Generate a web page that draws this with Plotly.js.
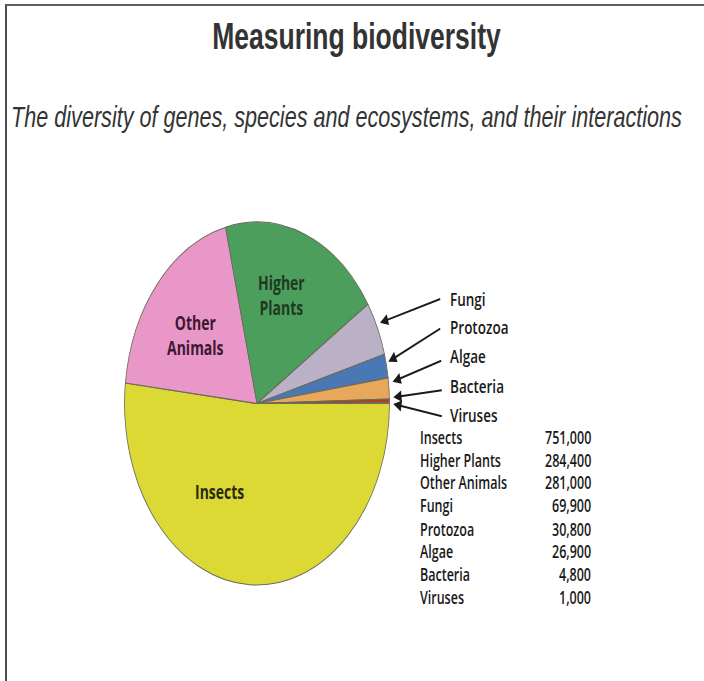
<!DOCTYPE html>
<html>
<head>
<meta charset="utf-8">
<script src="https://cdn.plot.ly/plotly-3.0.1.min.js"></script>
<style>
  html, body { margin: 0; padding: 0; background: #fff; overflow: hidden; }
  #stage { position: relative; width: 704px; height: 681px; overflow: hidden; }
  #chart { position: absolute; left: 0; top: 0; width: 704px; height: 497px;
           transform: scaleY(1.3702); transform-origin: 0 0; }
  #frame { position: absolute; left: 5px; top: 4px; right: 0; bottom: 0;
           border-top: 2px solid #5e5e5e; border-left: 2px solid #4e4e4e; pointer-events: none; }
</style>
</head>
<body>
<div id="stage">
  <div id="chart"></div>
  <div id="frame"></div>
</div>
<script>
// ---- data ----
const categories = ['Insects', 'Higher Plants', 'Other Animals', 'Fungi', 'Protozoa', 'Algae', 'Bacteria', 'Viruses'];
const speciesCounts = [751000, 284400, 281000, 69900, 30800, 26900, 4800, 1000];
// order of the slices going clockwise from 3 o'clock
const pieOrder = ['Insects', 'Other Animals', 'Higher Plants', 'Fungi', 'Protozoa', 'Algae', 'Bacteria', 'Viruses'];
const insideLabels = ['Higher Plants', 'Other Animals', 'Insects'];
const calloutLabels = ['Fungi', 'Protozoa', 'Algae', 'Bacteria', 'Viruses'];
const chartTitle = 'Measuring biodiversity';
const chartSubtitle = 'The diversity of genes, species and ecosystems, and their interactions';

// ---- styles ----
const S = 681 / 497;             // vertical stretch of the reference
const W = 704, H = 681;
const px = x => x / W;
const py = y => 1 - y / H;       // y given in final (stretched) pixels
const sliceColors = {
  'Insects': '#dcd934', 'Other Animals': '#e996c8', 'Higher Plants': '#4c9e5c',
  'Fungi': '#bab1c6', 'Protozoa': '#4a78b5', 'Algae': '#e9a75b',
  'Bacteria': '#a9421e', 'Viruses': '#d6cf92'
};
const insidePos = {
  'Higher Plants': { x: 281, y: 295, color: '#1f3a22' },
  'Other Animals': { x: 195, y: 335, color: '#3d1830' },
  'Insects':       { x: 219, y: 491, color: '#2a2a10' }
};
const calloutText = { x: 448, y0: 298.5, dy: 29.1 };
const calloutArrows = {
  'Fungi':    { tip: [380, 322.7], tail: [441.7, 298.3] },
  'Protozoa': { tip: [388.3, 361.7], tail: [441.7, 327.7] },
  'Algae':    { tip: [392.7, 381.7], tail: [442.7, 360] },
  'Bacteria': { tip: [393.3, 397.3], tail: [443.3, 390] },
  'Viruses':  { tip: [393.3, 404], tail: [443.3, 416.7] }
};
const table = { xLabel: 418, xValue: 593, y0: 437.5, dy: 22.9 };
const labelFont = 'Open Sans, Noto Sans, sans-serif';

const valueOf = name => speciesCounts[categories.indexOf(name)];

const pieTrace = {
  type: 'pie',
  labels: pieOrder,
  values: pieOrder.map(valueOf),
  sort: false,
  direction: 'clockwise',
  rotation: 90,
  textinfo: 'none',
  hoverinfo: 'label+value',
  marker: { colors: pieOrder.map(n => sliceColors[n]), line: { color: '#6a6a58', width: 0.8 } },
  domain: { x: [px(124), px(390)], y: [py(585), py(222)] },
  showlegend: false
};

const annotations = [];
annotations.push({
  text: chartSubtitle, xref: 'paper', yref: 'paper',
  x: px(346.5), y: py(117.5), xanchor: 'center', yanchor: 'middle', showarrow: false,
  font: { family: 'Liberation Sans, Arial, sans-serif', size: 21.6, style: 'italic', color: '#333' }
});
insideLabels.forEach(n => {
  const p = insidePos[n];
  annotations.push({
    text: n.replace(' ', '<br>'), xref: 'paper', yref: 'paper',
    x: px(p.x), y: py(p.y), xanchor: 'center', yanchor: 'middle', showarrow: false,
    font: { family: labelFont, size: 14, weight: 700, color: p.color }
  });
});
calloutLabels.forEach((n, i) => {
  const a = calloutArrows[n];
  annotations.push({
    text: n, xref: 'paper', yref: 'paper',
    x: px(calloutText.x), y: py(calloutText.y0 + i * calloutText.dy),
    xanchor: 'left', yanchor: 'middle', showarrow: false,
    font: { family: labelFont, size: 13.5, weight: 600, color: '#1a1a1a' }
  });
  annotations.push({
    text: '', xref: 'paper', yref: 'paper',
    x: px(a.tip[0]), y: py(a.tip[1]),
    ax: a.tail[0] - a.tip[0], ay: (a.tail[1] - a.tip[1]) / S,
    showarrow: true, arrowhead: 2, arrowsize: 1.1, arrowwidth: 1.5, arrowcolor: '#1a1a1a', standoff: 0
  });
});
categories.forEach((n, i) => {
  const y = py(table.y0 + i * table.dy);
  annotations.push({
    text: n, xref: 'paper', yref: 'paper', x: px(table.xLabel), y: y,
    xanchor: 'left', yanchor: 'middle', showarrow: false,
    font: { family: labelFont, size: 12.5, weight: 600, color: '#1a1a1a' }
  });
  annotations.push({
    text: speciesCounts[i].toLocaleString('en-US'), xref: 'paper', yref: 'paper', x: px(table.xValue), y: y,
    xanchor: 'right', yanchor: 'middle', showarrow: false,
    font: { family: labelFont, size: 12.5, weight: 600, color: '#1a1a1a' }
  });
});

const layout = {
  width: 704, height: 497,
  margin: { l: 0, r: 0, t: 0, b: 0 },
  paper_bgcolor: '#ffffff',
  title: {
    text: '<b>' + chartTitle + '</b>',
    x: px(356.5), xanchor: 'center', y: 1 - 36 / H, yanchor: 'middle',
    font: { family: 'Liberation Sans, Arial, sans-serif', size: 26.5, color: '#333' }
  },
  showlegend: false,
  annotations: annotations
};

Plotly.newPlot('chart', [pieTrace], layout, { displayModeBar: false, staticPlot: true });
</script>
</body>
</html>
